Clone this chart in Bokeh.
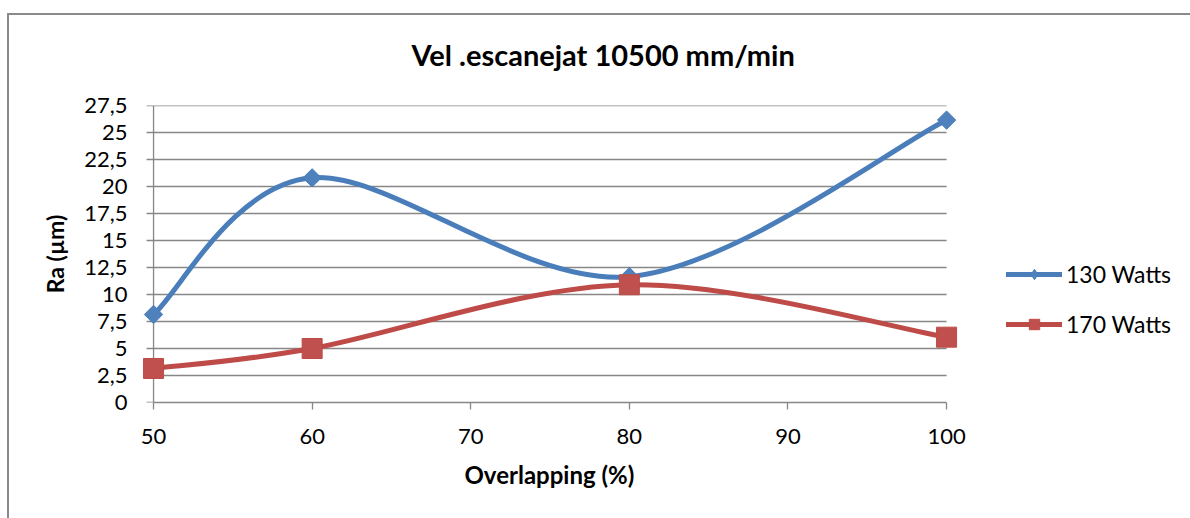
import numpy as np
from bokeh.plotting import figure
from bokeh.models import Range1d, FixedTicker, Legend, LegendItem, Title
from bokeh.embed import file_html
from bokeh.resources import INLINE

# ---- data ----
overlap = [50, 60, 80, 100]
ra_130 = [8.15, 20.8, 11.65, 26.15]
ra_170 = [3.15, 5.0, 10.9, 6.05]
series_names = ["130 Watts", "170 Watts"]
x_ticks = [50, 60, 70, 80, 90, 100]
y_ticks = [0, 2.5, 5, 7.5, 10, 12.5, 15, 17.5, 20, 22.5, 25, 27.5]
y_tick_labels = ["0", "2,5", "5", "7,5", "10", "12,5", "15", "17,5", "20", "22,5", "25", "27,5"]
title_text = "Vel .escanejat 10500 mm/min"
x_label = "Overlapping (%)"
y_label = "Ra (µm)"

FONT = "Lato"
GRID = "#878787"
FRAME = "#8a8a8a"
BLUE_LINE, BLUE_FILL = "#4A7EBB", "#4F81BD"
RED_LINE, RED_FILL = "#BE4B48", "#C0504D"


def smooth_segments(xs, ys):
    """Excel-like smoothing: cubic Bezier control points (Catmull-Rom, 1/6)."""
    x = np.asarray(xs, float)
    y = np.asarray(ys, float)
    X = np.concatenate([[x[0]], x, [x[-1]]])
    Y = np.concatenate([[y[0]], y, [y[-1]]])
    d = dict(x0=[], y0=[], x1=[], y1=[], cx0=[], cy0=[], cx1=[], cy1=[])
    for i in range(len(x) - 1):
        p0, p1, p2, p3 = i, i + 1, i + 2, i + 3
        d["x0"].append(X[p1]); d["y0"].append(Y[p1])
        d["x1"].append(X[p2]); d["y1"].append(Y[p2])
        d["cx0"].append(X[p1] + (X[p2] - X[p0]) / 6)
        d["cy0"].append(Y[p1] + (Y[p2] - Y[p0]) / 6)
        d["cx1"].append(X[p2] - (X[p3] - X[p1]) / 6)
        d["cy1"].append(Y[p2] - (Y[p3] - Y[p1]) / 6)
    return d


x_min, x_max = x_ticks[0], x_ticks[-1]
y_min, y_max = y_ticks[0], y_ticks[-1]

p = figure(width=1190, height=518, output_backend="svg", toolbar_location=None,
           x_range=Range1d(x_min - 1.39, x_max + 15.38),
           y_range=Range1d(y_min, y_max),
           min_border_left=131, min_border_right=0,
           min_border_top=105, min_border_bottom=116)
# chart-area border (top and left edges) painted behind a transparent canvas border
p.styles = {"background": (
    f"linear-gradient({FRAME}, {FRAME}) 7px 13px / 1183px 2px no-repeat, "
    f"linear-gradient({FRAME}, {FRAME}) 7px 13px / 2px 505px no-repeat, #ffffff")}
p.border_fill_color = None
p.outline_line_color = None
p.background_fill_color = "white"
p.xgrid.visible = False
p.ygrid.visible = False

# horizontal gridlines between x_min and x_max
n_grid = len(y_ticks) - 1
p.segment(x0=[x_min] * n_grid, x1=[x_max] * n_grid,
          y0=y_ticks[1:], y1=y_ticks[1:], line_color=GRID, line_width=1.3)
# vertical axis line at x_min and its outward ticks
p.segment(x0=[x_min], x1=[x_min], y0=[y_min], y1=[y_max],
          line_color=GRID, line_width=1.3)
p.ray(x=[x_min] * len(y_ticks), y=y_ticks, length=7, length_units="screen",
      angle=np.pi, line_color=GRID, line_width=1.3)

# x axis
xa = p.xaxis[0]
xa.ticker = FixedTicker(ticks=x_ticks)
xa.bounds = (x_min, x_max)
xa.axis_line_color = GRID
xa.axis_line_width = 1.3
xa.major_tick_line_color = GRID
xa.major_tick_line_width = 1.3
xa.major_tick_out = 7
xa.major_tick_in = 0
xa.minor_tick_line_color = None
xa.major_label_text_font = FONT
xa.major_label_text_font_size = "22px"
xa.major_label_text_color = "black"
xa.major_label_standoff = 19

# x axis title, placed under the axis and centred on the 50..100 span
p.add_layout(Title(text=x_label, align="left", offset=333, standoff=22,
                   text_font=FONT, text_font_size="24px", text_font_style="bold",
                   text_color="black"), "below")

# y axis (labels only; line and ticks drawn at x_min above)
ya = p.yaxis[0]
ya.ticker = FixedTicker(ticks=y_ticks)
ya.major_label_overrides = {t: l for t, l in zip(y_ticks, y_tick_labels)}
ya.axis_line_color = None
ya.major_tick_line_color = None
ya.major_tick_out = 0
ya.major_tick_in = 0
ya.minor_tick_line_color = None
ya.major_label_text_font = FONT
ya.major_label_text_font_size = "22px"
ya.major_label_text_color = "black"
ya.major_label_standoff = 4
ya.axis_label = y_label
ya.axis_label_text_font = FONT
ya.axis_label_text_font_size = "23px"
ya.axis_label_text_font_style = "bold"
ya.axis_label_text_color = "black"
ya.axis_label_standoff = 12

# series
s130 = smooth_segments(overlap, ra_130)
s170 = smooth_segments(overlap, ra_170)
b130 = p.bezier(source=s130, x0="x0", y0="y0", x1="x1", y1="y1",
                cx0="cx0", cy0="cy0", cx1="cx1", cy1="cy1",
                line_color=BLUE_LINE, line_width=5, line_cap="round")
b170 = p.bezier(source=s170, x0="x0", y0="y0", x1="x1", y1="y1",
                cx0="cx0", cy0="cy0", cx1="cx1", cy1="cy1",
                line_color=RED_LINE, line_width=5, line_cap="round")
m130 = p.scatter(overlap, ra_130, marker="square", angle=np.pi / 4, size=13,
                 fill_color=BLUE_FILL, line_color=BLUE_LINE, line_width=1)
m170 = p.scatter(overlap, ra_170, marker="square", size=20,
                 fill_color=RED_FILL, line_color=RED_LINE, line_width=1)
# diamond marker used for the legend swatch only (hidden in the plot)
m130_key = p.scatter(overlap, ra_130, marker="diamond", size=20,
                     fill_color=BLUE_FILL, line_color=BLUE_LINE, line_width=1,
                     visible=False)

legend = Legend(items=[LegendItem(label=series_names[0], renderers=[b130, m130_key]),
                       LegendItem(label=series_names[1], renderers=[b170, m170])],
                location=(875, 64), orientation="vertical",
                glyph_width=56, glyph_height=26, label_height=26,
                spacing=22, padding=0, margin=0, label_standoff=4,
                border_line_color=None, background_fill_alpha=0,
                label_text_font=FONT, label_text_font_size="23px",
                label_text_color="black")
p.add_layout(legend, "center")

p.title = Title(text=title_text, align="left", offset=280, standoff=68,
                text_font=FONT, text_font_size="29px", text_font_style="bold",
                text_color="black")

open("out.html", "w").write(file_html(p, INLINE))
